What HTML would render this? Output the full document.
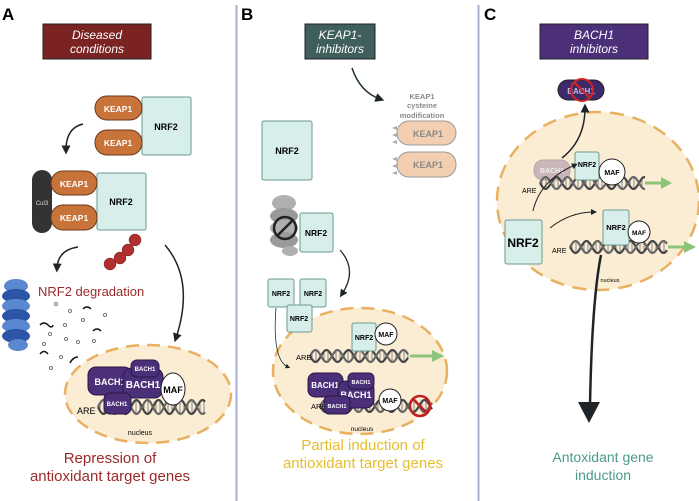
<!DOCTYPE html>
<html><head><meta charset="utf-8"><style>
body{margin:0;background:#fff}
svg{display:block;font-family:"Liberation Sans",sans-serif}
.b{font-weight:bold}
</style></head><body>
<svg id="s" width="699" height="501" viewBox="0 0 699 501" xmlns="http://www.w3.org/2000/svg">
<defs>
<marker id="ah" markerWidth="6" markerHeight="6" refX="3" refY="3" orient="auto" markerUnits="strokeWidth"><path d="M0,0 L6,3 L0,6 z" fill="#1e2428"/></marker>
</defs>
<line x1="236.5" y1="5" x2="236.5" y2="501" stroke="#a7aed4" stroke-width="2"/>
<line x1="478.5" y1="5" x2="478.5" y2="501" stroke="#a7aed4" stroke-width="2"/>

<!-- PANEL A -->
<text x="2" y="20" font-size="17" class="b">A</text>
<rect x="43" y="24" width="108" height="35" fill="#7b2323" stroke="#222" stroke-width="1"/>
<text x="97" y="39" font-size="12" font-style="italic" fill="#fff" text-anchor="middle">Diseased</text>
<text x="97" y="53" font-size="12" font-style="italic" fill="#fff" text-anchor="middle">conditions</text>
<rect x="142" y="97" width="49" height="58" rx="2" fill="#d8eeea" stroke="#6a9a92"/>
<text x="166" y="130" font-size="9" class="b" text-anchor="middle">NRF2</text>
<rect x="95" y="96" width="47" height="24" rx="12" fill="#c8733a" stroke="#6b3a1a"/>
<text x="118" y="112" font-size="8.5" class="b" fill="#fff" text-anchor="middle">KEAP1</text>
<rect x="95" y="130" width="47" height="25" rx="12" fill="#c8733a" stroke="#6b3a1a"/>
<text x="118" y="146" font-size="8.5" class="b" fill="#fff" text-anchor="middle">KEAP1</text>
<path d="M83,124 Q66,128 66,150" fill="none" stroke="#1e2428" stroke-width="1.5" marker-end="url(#ah)"/>
<rect x="32" y="170" width="20" height="63" rx="10" fill="#333"/>
<text x="42" y="205" font-size="6" fill="#ddd" text-anchor="middle">Cul3</text>
<rect x="97" y="173" width="49" height="57" rx="2" fill="#d8eeea" stroke="#6a9a92"/>
<text x="121" y="205" font-size="9" class="b" text-anchor="middle">NRF2</text>
<rect x="51" y="171" width="46" height="24" rx="12" fill="#c8733a" stroke="#6b3a1a"/>
<text x="74" y="187" font-size="8.5" class="b" fill="#fff" text-anchor="middle">KEAP1</text>
<rect x="51" y="205" width="46" height="25" rx="12" fill="#c8733a" stroke="#6b3a1a"/>
<text x="74" y="221" font-size="8.5" class="b" fill="#fff" text-anchor="middle">KEAP1</text>
<g fill="#b03030" stroke="#7a1e1e" stroke-width="0.5">
<circle cx="135" cy="240" r="6"/><circle cx="128" cy="250" r="6"/><circle cx="120" cy="258" r="6"/><circle cx="110" cy="264" r="6"/>
</g>
<path d="M78,247 Q58,250 57,268" fill="none" stroke="#1e2428" stroke-width="1.5" marker-end="url(#ah)"/>
<path d="M165,245 Q195,280 176,338" fill="none" stroke="#1e2428" stroke-width="1.5" marker-end="url(#ah)"/>
<g>
<ellipse cx="16" cy="286" rx="12" ry="7" fill="#5a88d0"/>
<ellipse cx="16" cy="296" rx="14" ry="7" fill="#2c55a8"/>
<ellipse cx="16" cy="306" rx="14" ry="7" fill="#5a88d0"/>
<ellipse cx="16" cy="316" rx="14" ry="7" fill="#2c55a8"/>
<ellipse cx="16" cy="326" rx="14" ry="7" fill="#5a88d0"/>
<ellipse cx="16" cy="336" rx="14" ry="7" fill="#2c55a8"/>
<ellipse cx="18" cy="345" rx="10" ry="6" fill="#5a88d0"/>
</g>
<text x="38" y="296" font-size="13" fill="#9c2a2a">NRF2 degradation</text>
<g fill="none" stroke="#555" stroke-width="0.8">
<circle cx="56" cy="304" r="1.5"/><circle cx="70" cy="311" r="1.5"/><circle cx="105" cy="315" r="1.5"/><circle cx="65" cy="325" r="1.5"/><circle cx="83" cy="320" r="1.5"/><circle cx="50" cy="334" r="1.5"/><circle cx="66" cy="339" r="1.5"/><circle cx="78" cy="342" r="1.5"/><circle cx="94" cy="341" r="1.5"/><circle cx="44" cy="344" r="1.5"/><circle cx="61" cy="357" r="1.5"/><circle cx="51" cy="368" r="1.5"/>
</g>
<g fill="none" stroke="#111" stroke-width="1.5">
<path d="M83,309 q4,-4 8,0"/><path d="M40,325 q4,-4 8,0 q4,4 5,0"/><path d="M93,331 q4,-4 8,0"/><path d="M40,354 q4,-5 8,0"/><path d="M70,363 q3,-6 8,-6"/>
</g>
<ellipse cx="148" cy="394" rx="83" ry="49" fill="#fbedd3" stroke="#e8b060" stroke-width="2.5" stroke-dasharray="13 8"/>
<g id="dnaA"></g>
<text x="77" y="414" font-size="9">ARE</text>
<rect x="88" y="367" width="44" height="28" rx="8" fill="#4b2f79" stroke="#2a1848"/>
<text x="110" y="385" font-size="9" class="b" fill="#fff" text-anchor="middle">BACH1</text>
<rect x="123" y="368" width="40" height="30" rx="9" fill="#4b2f79" stroke="#2a1848"/>
<text x="143" y="388" font-size="10" class="b" fill="#fff" text-anchor="middle">BACH1</text>
<rect x="131" y="360" width="28" height="17" rx="6" fill="#4b2f79" stroke="#2a1848"/>
<text x="145" y="371" font-size="6" class="b" fill="#fff" text-anchor="middle">BACH1</text>
<rect x="104" y="393" width="27" height="21" rx="6" fill="#4b2f79" stroke="#2a1848"/>
<text x="117" y="406" font-size="6" class="b" fill="#fff" text-anchor="middle">BACH1</text>
<ellipse cx="173" cy="389" rx="12" ry="16" fill="#fff" stroke="#222"/>
<text x="173" y="393" font-size="9" class="b" text-anchor="middle">MAF</text>
<text x="140" y="435" font-size="7" text-anchor="middle">nucleus</text>
<text x="110" y="463" font-size="15" fill="#9c2a2a" text-anchor="middle">Repression of</text>
<text x="110" y="481" font-size="15" fill="#9c2a2a" text-anchor="middle">antioxidant target genes</text>

<!-- PANEL B -->
<text x="241" y="20" font-size="17" class="b">B</text>
<rect x="305" y="24" width="70" height="35" fill="#3e5f5b" stroke="#222"/>
<text x="340" y="39" font-size="12" font-style="italic" fill="#fff" text-anchor="middle">KEAP1-</text>
<text x="340" y="53" font-size="12" font-style="italic" fill="#fff" text-anchor="middle">inhibitors</text>
<path d="M352,68 Q360,92 380,99" fill="none" stroke="#1e3236" stroke-width="1.5" marker-end="url(#ah)"/>
<g font-size="7.5" class="b" fill="#8a8a8a" text-anchor="middle"><text x="422" y="99">KEAP1</text><text x="422" y="108">cysteine</text><text x="422" y="118">modification</text></g>
<rect x="397" y="121" width="59" height="24" rx="12" fill="#f2cfb0" stroke="#999"/>
<text x="428" y="137" font-size="9" class="b" fill="#888" text-anchor="middle">KEAP1</text>
<rect x="397" y="152" width="59" height="25" rx="12" fill="#f2cfb0" stroke="#999"/>
<text x="428" y="168" font-size="9" class="b" fill="#888" text-anchor="middle">KEAP1</text>
<g fill="#aaa"><path d="M397,126 l-5,2 l5,2z"/><path d="M397,133 l-5,2 l5,2z"/><path d="M397,140 l-5,2 l5,2z"/><path d="M397,157 l-5,2 l5,2z"/><path d="M397,164 l-5,2 l5,2z"/><path d="M397,171 l-5,2 l5,2z"/></g>
<rect x="262" y="121" width="50" height="59" rx="2" fill="#d8eeea" stroke="#6a9a92"/>
<text x="287" y="154" font-size="9" class="b" text-anchor="middle">NRF2</text>
<g fill="#9a9a9a"><ellipse cx="284" cy="203" rx="12" ry="8" fill="#b0b0b0"/><ellipse cx="284" cy="216" rx="14" ry="8"/><ellipse cx="284" cy="228" rx="14" ry="8" fill="#b0b0b0"/><ellipse cx="284" cy="240" rx="14" ry="8"/><ellipse cx="290" cy="251" rx="8" ry="5" fill="#b0b0b0"/></g>
<circle cx="285" cy="228" r="11" fill="none" stroke="#222" stroke-width="2.5"/>
<line x1="278" y1="235" x2="292" y2="221" stroke="#222" stroke-width="2.5"/>
<rect x="300" y="213" width="33" height="39" rx="2" fill="#d8eeea" stroke="#6a9a92"/>
<text x="316" y="236" font-size="8.5" class="b" text-anchor="middle">NRF2</text>
<path d="M340,250 Q358,270 342,294" fill="none" stroke="#1e3236" stroke-width="1.3" marker-end="url(#ah)"/>
<ellipse cx="360" cy="371" rx="87" ry="63" fill="#fbedd3" stroke="#e8b060" stroke-width="2.5" stroke-dasharray="13 8"/>
<rect x="268" y="279" width="26" height="28" rx="2" fill="#d8eeea" stroke="#6a9a92"/>
<text x="281" y="296" font-size="7" class="b" text-anchor="middle">NRF2</text>
<rect x="300" y="279" width="26" height="28" rx="2" fill="#d8eeea" stroke="#6a9a92"/>
<text x="313" y="296" font-size="7" class="b" text-anchor="middle">NRF2</text>
<rect x="287" y="305" width="25" height="27" rx="2" fill="#d8eeea" stroke="#6a9a92"/>
<text x="299" y="321" font-size="7" class="b" text-anchor="middle">NRF2</text>
<path d="M276,308 Q272,360 288,367" fill="none" stroke="#1e3236" stroke-width="0.8" marker-end="url(#ah)"/>
<g id="dnaB"></g>
<path d="M410,356 L434,356" stroke="#8cc47a" stroke-width="3"/><path d="M432,350 L444,356 L432,362z" fill="#8cc47a"/>
<text x="296" y="360" font-size="7.5">ARE</text>
<rect x="352" y="323" width="24" height="28" rx="2" fill="#d8eeea" stroke="#6a9a92"/>
<text x="364" y="340" font-size="7" class="b" text-anchor="middle">NRF2</text>
<circle cx="386" cy="334" r="11" fill="#fff" stroke="#222"/>
<text x="386" y="337" font-size="7" class="b" text-anchor="middle">MAF</text>
<text x="311" y="409" font-size="7.5">ARE</text>
<rect x="308" y="373" width="35" height="24" rx="7" fill="#4b2f79" stroke="#2a1848"/>
<text x="325" y="388" font-size="8" class="b" fill="#fff" text-anchor="middle">BACH1</text>
<rect x="338" y="381" width="36" height="27" rx="8" fill="#4b2f79" stroke="#2a1848"/>
<text x="356" y="398" font-size="9" class="b" fill="#fff" text-anchor="middle">BACH1</text>
<rect x="348" y="373" width="26" height="16" rx="5" fill="#4b2f79" stroke="#2a1848"/>
<text x="361" y="384" font-size="5.5" class="b" fill="#fff" text-anchor="middle">BACH1</text>
<rect x="324" y="396" width="26" height="18" rx="5" fill="#4b2f79" stroke="#2a1848"/>
<text x="337" y="408" font-size="5.5" class="b" fill="#fff" text-anchor="middle">BACH1</text>
<circle cx="390" cy="400" r="11" fill="#fff" stroke="#222"/>
<text x="390" y="403" font-size="7" class="b" text-anchor="middle">MAF</text>
<circle cx="420" cy="406" r="10" fill="none" stroke="#c02020" stroke-width="2.5"/>
<line x1="413" y1="399" x2="427" y2="413" stroke="#c02020" stroke-width="2.5"/>
<text x="362" y="431" font-size="6.5" text-anchor="middle">nucleus</text>
<text x="363" y="450" font-size="15" fill="#e6be2c" text-anchor="middle">Partial induction of</text>
<text x="363" y="468" font-size="15" fill="#e6be2c" text-anchor="middle">antioxidant target genes</text>

<!-- PANEL C -->
<text x="484" y="20" font-size="17" class="b">C</text>
<rect x="540" y="24" width="108" height="35" fill="#4b2f79" stroke="#222"/>
<text x="594" y="39" font-size="12" font-style="italic" fill="#fff" text-anchor="middle">BACH1</text>
<text x="594" y="53" font-size="12" font-style="italic" fill="#fff" text-anchor="middle">inhibitors</text>
<ellipse cx="598" cy="201" rx="101" ry="89" fill="#fbedd3" stroke="#e8b060" stroke-width="2.5" stroke-dasharray="14 9"/>
<rect x="558" y="80" width="46" height="20" rx="10" fill="#3e2a6a" stroke="#222"/>
<text x="581" y="94" font-size="8" class="b" fill="#c9b8d8" text-anchor="middle">BACH1</text>
<circle cx="582" cy="90" r="11" fill="none" stroke="#d02525" stroke-width="2"/>
<line x1="574" y1="82" x2="590" y2="98" stroke="#d02525" stroke-width="2"/>
<path d="M562,158 Q585,140 585,108" fill="none" stroke="#1e2428" stroke-width="1.5" marker-end="url(#ah)"/>
<rect x="534" y="160" width="36" height="20" rx="9" fill="#c9b6b8" stroke="#b8a8a8"/>
<text x="552" y="173" font-size="7" class="b" fill="#eee" text-anchor="middle">BACH1</text>
<g id="dnaC"></g>
<path d="M645,183 L663,183" stroke="#8cc47a" stroke-width="3"/><path d="M661,177 L672,183 L661,189z" fill="#8cc47a"/>
<path d="M668,247 L686,247" stroke="#8cc47a" stroke-width="3"/><path d="M684,241 L696,247 L684,253z" fill="#8cc47a"/>
<text x="522" y="193" font-size="7">ARE</text>
<text x="552" y="253" font-size="7">ARE</text>
<rect x="575" y="152" width="24" height="28" rx="2" fill="#d8eeea" stroke="#6a9a92"/>
<text x="587" y="167" font-size="7" class="b" text-anchor="middle">NRF2</text>
<circle cx="612" cy="172" r="13" fill="#fff" stroke="#222"/>
<text x="612" y="175" font-size="7" class="b" text-anchor="middle">MAF</text>
<rect x="603" y="210" width="26" height="35" rx="2" fill="#d8eeea" stroke="#6a9a92"/>
<text x="616" y="230" font-size="7.5" class="b" text-anchor="middle">NRF2</text>
<circle cx="639" cy="232" r="11" fill="#fff" stroke="#222"/>
<text x="639" y="235" font-size="6.5" class="b" text-anchor="middle">MAF</text>
<path d="M533,211 Q540,180 575,165" fill="none" stroke="#1e2428" stroke-width="1" marker-end="url(#ah)"/>
<path d="M550,228 Q570,212 594,212" fill="none" stroke="#1e2428" stroke-width="1" marker-end="url(#ah)"/>
<rect x="505" y="220" width="37" height="44" rx="2" fill="#d8eeea" stroke="#6a9a92"/>
<text x="523" y="247" font-size="12" class="b" text-anchor="middle">NRF2</text>
<text x="610" y="282" font-size="5.5" text-anchor="middle">nucleus</text>
<path d="M601,255 Q592,300 590,405" fill="none" stroke="#1e2428" stroke-width="2.5"/>
<path d="M578,402 L600,402 L589,423z" fill="#1e2428"/>
<text x="603" y="462" font-size="14" fill="#4a9a8a" text-anchor="middle">Antoxidant gene</text>
<text x="603" y="480" font-size="14" fill="#4a9a8a" text-anchor="middle">induction</text>
</svg>
<script>
function dna(id,x0,x1,y,a){
 var g=document.getElementById(id),ns="http://www.w3.org/2000/svg",d1="",d2="",r="",per=22;
 for(var x=x0;x<=x1;x+=1){var t=(x-x0)/per*2*Math.PI;var s=Math.sin(t)*a;
  d1+=(x==x0?"M":"L")+x+","+(y+s).toFixed(1);d2+=(x==x0?"M":"L")+x+","+(y-s).toFixed(1);
  if((x-x0)%4==2)r+="M"+x+","+(y+s).toFixed(1)+"L"+x+","+(y-s).toFixed(1);}
 [[r,"#888",1],[d1,"#444",2.2],[d2,"#666",2.2]].forEach(function(p){var e=document.createElementNS(ns,"path");e.setAttribute("d",p[0]);e.setAttribute("stroke",p[1]);e.setAttribute("stroke-width",p[2]);e.setAttribute("fill","none");g.appendChild(e);});
}
dna("dnaA",98,205,407,7);
dna("dnaB",310,408,356,6);
dna("dnaB",320,432,406,6);
dna("dnaC",540,645,183,6);
dna("dnaC",570,667,247,6);
</script>
</body></html>
